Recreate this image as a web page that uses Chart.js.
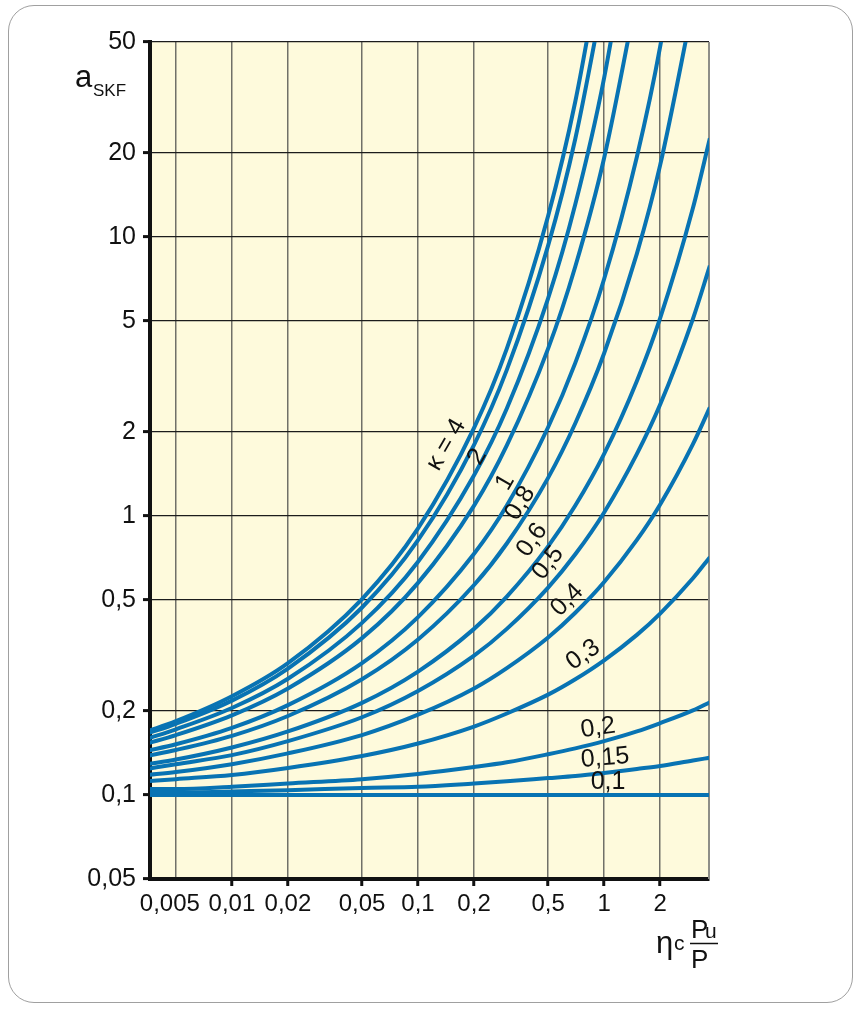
<!DOCTYPE html>
<html>
<head>
<meta charset="utf-8">
<script src="https://cdn.jsdelivr.net/npm/chart.js@4.4.1/dist/chart.umd.min.js"></script>
<style>
  html, body { margin: 0; padding: 0; background: #fff; }
  #wrap { position: relative; width: 862px; height: 1009px; }
  #frame { position: absolute; left: 8px; top: 5px; width: 843px; height: 996px;
           border: 1.5px solid #a0a0a0; border-radius: 26px; }
  #askfChart { position: absolute; left: 0; top: 0; }
</style>
</head>
<body>
<div id="wrap">
  <div id="frame"></div>
  <canvas id="askfChart" width="862" height="1009"></canvas>
</div>
<script>
// x = eta_c * Pu / P  (shared sample positions for every curve)
var etaPuP = [0.0035, 0.005, 0.01, 0.02, 0.05, 0.1, 0.2, 0.3, 0.5, 0.7, 1, 1.5, 2, 3, 3.7];

// a_SKF (null once the curve has left the top of the plot)
var kappa4   = [0.169, 0.184, 0.226, 0.297, 0.504, 0.903, 2.07, 3.98, 11.9, 30.6, 113, null, null, null, null];
var kappa3   = [0.166, 0.180, 0.218, 0.284, 0.470, 0.819, 1.80, 3.34, 9.31, 22.5, 75.5, null, null, null, null];
var kappa2   = [0.159, 0.172, 0.205, 0.261, 0.414, 0.686, 1.40, 2.43, 6.03, 13.1, 37.2, 183, null, null, null];
var kappa15  = [0.153, 0.164, 0.193, 0.241, 0.365, 0.576, 1.09, 1.79, 3.98, 7.84, 19.2, 73.8, null, null, null];
var kappa1   = [0.144, 0.152, 0.174, 0.210, 0.297, 0.434, 0.732, 1.09, 2.08, 3.54, 7.07, 19.4, 48.1, 263, null];
var kappa08  = [0.138, 0.145, 0.163, 0.192, 0.260, 0.361, 0.566, 0.797, 1.37, 2.15, 3.83, 8.72, 18.1, 67.8, null];
var kappa06  = [0.129, 0.134, 0.148, 0.169, 0.214, 0.277, 0.394, 0.514, 0.778, 1.09, 1.67, 3.05, 5.12, 12.7, 22.6];
var kappa05  = [0.124, 0.129, 0.139, 0.156, 0.190, 0.236, 0.316, 0.394, 0.554, 0.729, 1.03, 1.67, 2.51, 5.09, 7.89];
var kappa04  = [0.118, 0.121, 0.129, 0.141, 0.164, 0.194, 0.241, 0.285, 0.367, 0.450, 0.580, 0.821, 1.10, 1.81, 2.45];
var kappa03  = [0.112, 0.114, 0.118, 0.125, 0.138, 0.153, 0.176, 0.196, 0.229, 0.260, 0.304, 0.375, 0.447, 0.598, 0.712];
var kappa02  = [0.105, 0.105, 0.107, 0.110, 0.114, 0.119, 0.126, 0.131, 0.140, 0.147, 0.156, 0.169, 0.181, 0.201, 0.215];
var kappa015 = [0.102, 0.102, 0.103, 0.104, 0.106, 0.107, 0.110, 0.112, 0.115, 0.117, 0.120, 0.124, 0.127, 0.133, 0.136];
var kappa01  = [0.1, 0.1, 0.1, 0.1, 0.1, 0.1, 0.1, 0.1, 0.1, 0.1, 0.1, 0.1, 0.1, 0.1, 0.1];

var curveNames = ['4', '3', '2', '1,5', '1', '0,8', '0,6', '0,5', '0,4', '0,3', '0,2', '0,15', '0,1'];
var curves = [kappa4, kappa3, kappa2, kappa15, kappa1, kappa08, kappa06, kappa05, kappa04, kappa03, kappa02, kappa015, kappa01];

var xTickValues = [0.005, 0.01, 0.02, 0.05, 0.1, 0.2, 0.5, 1, 2];
var yTickValues = [0.05, 0.1, 0.2, 0.5, 1, 2, 5, 10, 20, 50];

// curve labels written along the lines (anchor in data units, angle in degrees)
var kappaText  = ['\u03ba = 4', '2', '1', '0,8', '0,6', '0,5', '0,4', '0,3', '0,2', '0,15', '0,1'];
var kappaAtX   = [0.142, 0.208, 0.294, 0.354, 0.41, 0.5, 0.633, 0.771, 0.928, 1.012, 1.05];
var kappaAtY   = [1.80, 1.63, 1.32, 1.11, 0.82, 0.678, 0.50, 0.318, 0.174, 0.1357, 0.1113];
var kappaAngle = [-60, -60, -60, -58, -55, -52, -45, -35, -8, -5, 0];

var FONT = '"Liberation Sans", Arial, Helvetica, sans-serif';
var BLUE = '#0873b3';

function toComma(v) {
  var s = String(v).replace('.', ',');
  // first label sits a little left of its grid line in the original
  return v === 0.005 ? s + '\u2002' : s;
}

var datasets = curves.map(function (vals, i) {
  return {
    label: '\u03ba = ' + curveNames[i],
    data: vals.map(function (v, j) { return { x: etaPuP[j], y: v }; }),
    borderColor: BLUE,
    backgroundColor: BLUE,
    borderWidth: 4,
    pointRadius: 0,
    fill: false,
    cubicInterpolationMode: 'monotone',
    spanGaps: false
  };
});

var paperPlugin = {
  id: 'paper',
  beforeDraw: function (chart) {
    var a = chart.chartArea, ctx = chart.ctx;
    ctx.save();
    ctx.fillStyle = '#fefadc';
    ctx.fillRect(a.left, a.top, a.right - a.left, a.bottom - a.top);
    ctx.restore();
  },
  beforeDatasetsDraw: function (chart) {
    var a = chart.chartArea, ctx = chart.ctx;
    ctx.save();
    ctx.strokeStyle = '#8e8e88';
    ctx.lineWidth = 2;
    ctx.beginPath();
    ctx.moveTo(a.right, a.top);
    ctx.lineTo(a.right, a.bottom);
    ctx.stroke();
    ctx.restore();
  },
  afterDraw: function (chart) {
    var ctx = chart.ctx, xs = chart.scales.x, ys = chart.scales.y;
    ctx.save();
    ctx.fillStyle = '#111';

    // kappa labels
    ctx.font = '25px ' + FONT;
    ctx.textAlign = 'center';
    ctx.textBaseline = 'middle';
    for (var i = 0; i < kappaText.length; i++) {
      ctx.save();
      ctx.translate(xs.getPixelForValue(kappaAtX[i]), ys.getPixelForValue(kappaAtY[i]));
      ctx.rotate(kappaAngle[i] * Math.PI / 180);
      ctx.fillText(kappaText[i], 0, 0);
      ctx.restore();
    }

    // y title: a_SKF
    ctx.textAlign = 'left';
    ctx.textBaseline = 'alphabetic';
    ctx.font = '31px ' + FONT;
    ctx.fillText('a', 75, 87);
    ctx.font = '17px ' + FONT;
    ctx.fillText('SKF', 93, 96);

    // x title: eta_c * Pu / P
    ctx.font = '31px ' + FONT;
    ctx.fillText('\u03b7', 656, 953);
    ctx.font = '21px ' + FONT;
    ctx.fillText('c', 674, 950);
    ctx.font = '26px ' + FONT;
    ctx.fillText('P', 691, 938);
    ctx.fillText('P', 691, 968);
    ctx.font = '21px ' + FONT;
    ctx.fillText('u', 705, 938);
    ctx.strokeStyle = '#111';
    ctx.lineWidth = 1.5;
    ctx.beginPath();
    ctx.moveTo(690, 943.5);
    ctx.lineTo(718, 943.5);
    ctx.stroke();
    ctx.restore();
  }
};

var askfChart = new Chart(document.getElementById('askfChart').getContext('2d'), {
  type: 'line',
  data: { datasets: datasets },
  options: {
    responsive: false,
    animation: false,
    layout: { padding: { top: 42, right: 153, left: 0, bottom: 0 } },
    plugins: {
      legend: { display: false },
      tooltip: { enabled: false },
      title: { display: false }
    },
    scales: {
      x: {
        type: 'logarithmic',
        min: 0.00363,
        max: 3.66,
        afterBuildTicks: function (scale) {
          scale.ticks = xTickValues.map(function (v) { return { value: v }; });
        },
        afterFit: function (scale) { scale.height = 130; },
        border: { display: true, color: '#111', width: 4 },
        grid: {
          color: '#707068',
          lineWidth: 1.5,
          drawTicks: true,
          tickLength: 7,
          tickWidth: 3,
          tickColor: function (ctx) {
            return ctx.tick && ctx.tick.value === 0.005 ? 'rgba(0,0,0,0)' : '#111';
          }
        },
        ticks: {
          autoSkip: false,
          maxRotation: 0,
          padding: 4,
          color: '#111',
          font: { family: FONT, size: 24 },
          callback: function (v) { return toComma(v); }
        }
      },
      y: {
        type: 'logarithmic',
        min: 0.05,
        max: 50,
        afterBuildTicks: function (scale) {
          scale.ticks = yTickValues.map(function (v) { return { value: v }; });
        },
        afterFit: function (scale) { scale.width = 150; },
        border: { display: true, color: '#111', width: 4 },
        grid: {
          color: '#1c1c1c',
          lineWidth: 1.2,
          drawTicks: true,
          tickLength: 7,
          tickWidth: 3,
          tickColor: '#111'
        },
        ticks: {
          autoSkip: false,
          padding: 7,
          color: '#111',
          font: { family: FONT, size: 25 },
          callback: function (v) { return toComma(v); }
        }
      }
    }
  },
  plugins: [paperPlugin]
});
</script>
</body>
</html>
